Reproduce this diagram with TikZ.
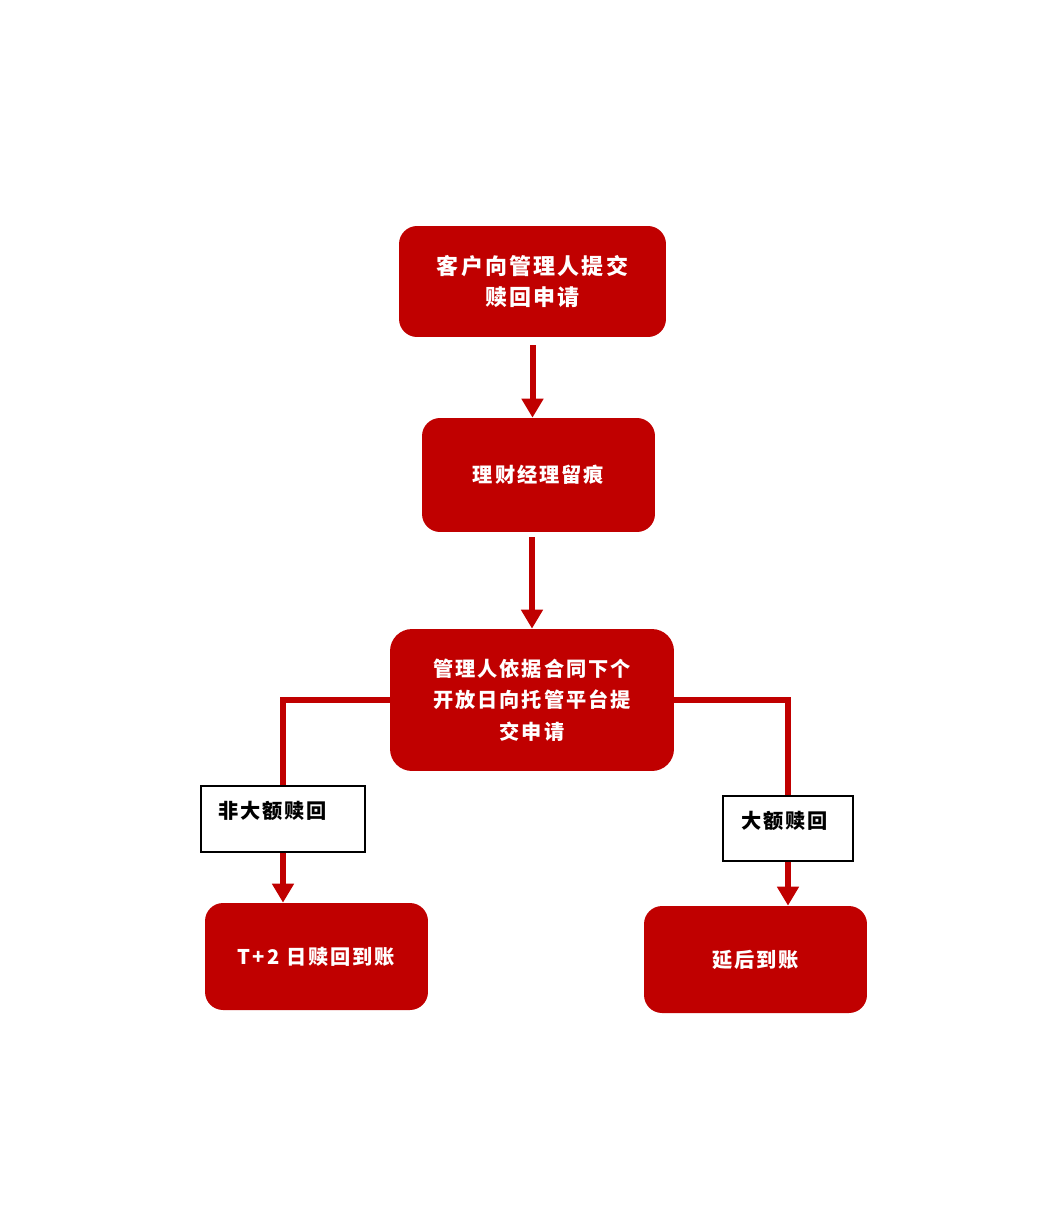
\documentclass[tikz,border=0pt]{standalone}
\usepackage{fontspec}
\newfontfamily\cjk[LetterSpace=10]{Noto Sans CJK SC}
\usetikzlibrary{arrows.meta}
\definecolor{boxred}{HTML}{C00000}

\begin{document}
\begin{tikzpicture}[x=0.02cm,y=-0.02cm,
  stepbox/.style={fill=boxred,rounded corners=0.36cm,text=white,inner sep=0pt,align=center,
    font=\cjk\bfseries\fontsize{11.5}{18}\selectfont},
  tagbox/.style={draw=black,line width=0.6pt,fill=white,align=left,inner xsep=0.34cm,inner ysep=0pt,
    text height=0.4cm,text depth=0.42cm,font=\cjk\bfseries\fontsize{11.5}{14}\selectfont},
  flow/.style={draw=boxred,line width=0.12cm},
  tip/.style={-{Triangle[width=0.42cm,length=0.38cm]}}]
\useasboundingbox (0,0) rectangle (1062,1224);

\node[stepbox,minimum width=5.34cm,minimum height=2.22cm,font=\cjk\bfseries\fontsize{12.5}{17.6}\selectfont] (apply) at (532.5,281.5) {客户向管理人提交\\赎回申请};
\node[stepbox,minimum width=4.66cm,minimum height=2.28cm] (trace) at (538.5,475) {理财经理留痕};
\node[stepbox,minimum width=5.68cm,minimum height=2.84cm,rounded corners=0.44cm] (submit) at (532,700) {管理人依据合同下个\\开放日向托管平台提\\交申请};
\node[stepbox,minimum width=4.46cm,minimum height=2.14cm] (fast) at (316.5,956.5) {T+2 日赎回到账};
\node[stepbox,minimum width=4.46cm,minimum height=2.14cm] (late) at (755.5,959.5) {延后到账};

\node[tagbox,minimum width=3.28cm,minimum height=1.32cm,text width=2.6cm] (small) at (283,819) {非大额赎回};
\node[tagbox,minimum width=2.6cm,minimum height=1.3cm,text width=1.88cm] (large) at (788,828.5) {大额赎回};

\draw[flow,tip,shorten <=0.16cm] (apply.south) -- (apply.south |- trace.north);
\draw[flow,tip,shorten <=0.1cm] (submit.north |- trace.south) -- (submit.north);
\foreach \tag/\goal/\side in {small/fast/west,large/late/east}
{
    \draw[flow] (submit.\side) -| (\tag.north);
    \draw[flow,tip] (\tag.south) -- (\tag.south |- \goal.north);
}
\end{tikzpicture}
\end{document}
